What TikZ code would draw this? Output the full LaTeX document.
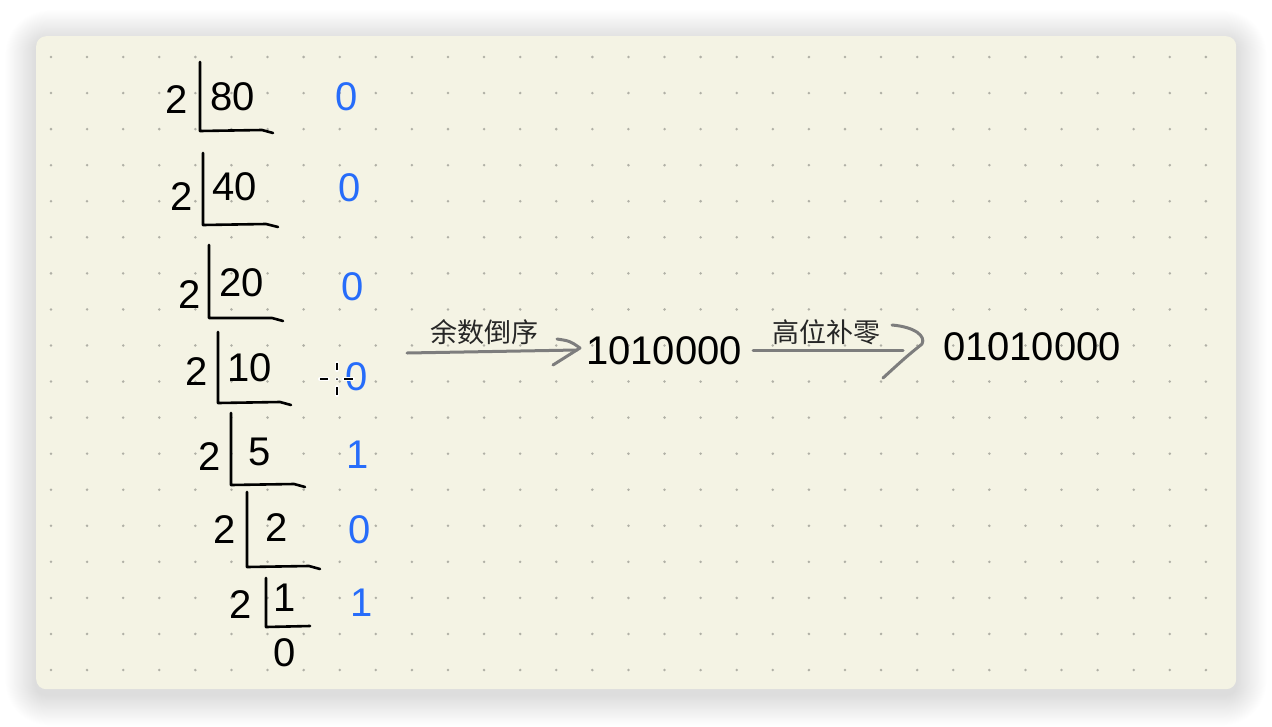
\documentclass[tikz,border=0pt]{standalone}
\usepackage{fontspec}
\setmainfont{Liberation Sans}
\newfontfamily\cjk{Noto Sans CJK SC}
\definecolor{cardbg}{RGB}{244,243,228}
\definecolor{dotc}{RGB}{176,176,166}
\definecolor{remblue}{RGB}{38,108,250}
\definecolor{arrgray}{RGB}{125,125,125}
\tikzset{
  num/.style={inner sep=0pt, font=\fontsize{40}{40}\selectfont, text=black},
  rem/.style={inner sep=0pt, font=\fontsize{40}{40}\selectfont, text=remblue},
  lab/.style={inner sep=0pt, font=\cjk\fontsize{27}{27}\selectfont, text=black!85},
  divline/.style={draw=black, line width=2.6pt, line cap=round, line join=round},
  arrline/.style={draw=arrgray, line width=3pt, line cap=round, line join=round},
}
\begin{document}
\begin{tikzpicture}[x=1pt,y=-1pt]
\useasboundingbox (0,0) rectangle (1272,726);
\fill[white] (0,0) rectangle (1272,726);
% soft shadow
\foreach \k in {1,...,34}{
  \fill[black, fill opacity=0.005, rounded corners={10pt+\k*1pt}]
    ({36-\k*0.9},{41-\k*0.9}) rectangle ({1236+\k*0.9},{695+\k*0.9});
}
% card
\node[fill=cardbg, rounded corners=10pt, minimum width=1200pt, minimum height=653pt, inner sep=0pt, anchor=north west] (card) at (36,36) {};
% dot grid
\foreach \i in {0,...,32}{
  \foreach \j in {0,...,17}{
    \fill[dotc] ({51+36.09*\i},{57+36.06*\j}) circle (1.4pt);
  }
}
% division rows
\draw[divline] (200,62) -- (200,131) -- (262,130) -- (273,133);
\draw[divline] (203,153) -- (203,225) -- (266,224) -- (278,227);
\draw[divline] (209,245) -- (209,318) -- (272,318) -- (283,321);
\draw[divline] (218,332) -- (218,403) -- (280,402) -- (291,405);
\draw[divline] (231,413) -- (231,485) -- (294,484) -- (305,487);
\draw[divline] (247,492) -- (247,567) -- (309,566) -- (320,569);
\draw[divline] (266,578) -- (266,627) -- (310,626);
% divisors
\node[num] (d1) at (177,100) {2};
\node[num] (d2) at (182,197) {2};
\node[num] (d3) at (190,295) {2};
\node[num] (d4) at (197,372) {2};
\node[num] (d5) at (210,457) {2};
\node[num] (d6) at (225,530) {2};
\node[num] (d7) at (241,605) {2};
% dividends
\node[num] (q1) at (233,97) {80};
\node[num] (q2) at (235,187) {40};
\node[num] (q3) at (242,283) {20};
\node[num] (q4) at (250,368) {10};
\node[num] (q5) at (260,452) {5};
\node[num] (q6) at (277,528) {2};
\node[num] (q7) at (285,598) {1};
\node[num] (q8) at (285,653) {0};
% remainders
\node[rem] (r1) at (347,97) {0};
\node[rem] (r2) at (350,188) {0};
\node[rem] (r3) at (353,287) {0};
\node[rem] (r4) at (357,377) {0};
\node[rem] (r5) at (358,455) {1};
\node[rem] (r6) at (360,530) {0};
\node[rem] (r7) at (362,603) {1};
% results
\node[num] (b1) at (664,351) {1010000};
\node[num] (b2) at (1032,347) {01010000};
% labels
\node[lab] (l1) at (484,332) {余数倒序};
\node[lab] (l2) at (826,332) {高位补零};
% arrows
\coordinate (a1s) at (407,353);
\coordinate (a1e) at (577,350);
\draw[arrline] (a1s) -- (a1e);
\draw[arrline] (557,339) .. controls (570,341) .. (580,348) -- (553,365);
\coordinate (a2s) at (753,350);
\coordinate (a2e) at (903,350);
\draw[arrline] (a2s) -- (a2e);
\draw[arrline] (892,325) .. controls (915,327) and (926,336) .. (922,344) .. controls (906,357) .. (883,378);
% mouse crosshair
\foreach \a/\b in {{(320,379)}/{(328,379)},{(344,379)}/{(353,379)},{(337,363)}/{(337,370)},{(337,387)}/{(337,395)}}{
  \draw[white, line width=4pt, line cap=round] \a -- \b;
  \draw[black, line width=1.8pt] \a -- \b;
}
\fill[white] (337,379) circle (2pt);
\fill[black] (337,379) circle (1pt);
\end{tikzpicture}
\end{document}
